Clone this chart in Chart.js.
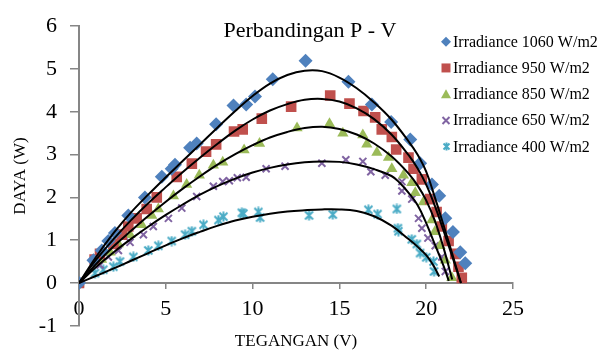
<!DOCTYPE html>
<html><head><meta charset="utf-8">
<script src="https://cdn.jsdelivr.net/npm/chart.js@4.4.0/dist/chart.umd.min.js"></script>
<style>html,body{margin:0;padding:0;background:#fff;}#wrap{width:606px;height:352px;}</style>
</head><body><div id="wrap"><canvas id="c" width="606" height="352"></canvas></div>
<script>
// ---------- DATA ----------
const TITLE = 'Perbandingan P - V';
const X_TITLE = 'TEGANGAN (V)';
const Y_TITLE = 'DAYA (W)';
const X_TICKS = [0, 5, 10, 15, 20, 25];
const Y_TICKS = [-1, 0, 1, 2, 3, 4, 5, 6];
const SERIES_NAMES = ['Irradiance 1060 W/m2','Irradiance 950 W/m2','Irradiance 850 W/m2','Irradiance 650 W/m2','Irradiance 400 W/m2'];

// measured points (V, P)
const V_1060 = [0,0.83,1.31,1.69,2.07,2.84,3.8,4.77,5.34,5.53,6.4,6.78,7.9,8.9,9.63,10.14,11.16,13.05,15.52,16.87,17.98,19.08,19.65,20.33,20.75,21.1,21.54,21.96,22.25];
const P_1060 = [0,0.53,0.76,0.98,1.17,1.58,2.0,2.48,2.67,2.76,3.16,3.26,3.71,4.15,4.17,4.36,4.76,5.19,4.70,4.17,3.76,3.35,2.8,2.3,2.04,1.51,1.19,0.72,0.46];

const V_950 = [0,0.9,1.21,1.98,2.46,2.84,3.32,3.9,4.48,5.63,6.5,7.32,7.9,8.93,9.43,10.53,12.22,14.47,15.58,16.39,17.06,17.44,18.02,18.27,18.98,19.27,19.75,20.23,20.6,20.9,21.29,21.67,21.86,22.05];
const P_950 = [0,0.55,0.68,0.91,1.13,1.32,1.51,1.73,2.0,2.48,2.79,3.07,3.24,3.54,3.59,3.84,4.12,4.38,4.19,4.02,3.87,3.59,3.41,3.12,2.93,2.67,2.42,1.96,1.66,1.32,0.98,0.68,0.38,0.12];

const V_850 = [0,1.3,1.79,2.27,2.94,3.61,4.19,4.57,5.44,6.2,6.93,7.74,8.28,9.51,10.4,12.56,14.43,15.2,16.35,16.58,17.16,17.83,18.02,18.69,19.17,19.37,19.84,20.33,20.5,20.8,21.1,21.48];
const P_850 = [0,0.55,0.72,0.91,1.13,1.36,1.58,1.73,2.03,2.3,2.52,2.75,2.82,3.11,3.26,3.62,3.72,3.5,3.46,3.24,3.05,2.93,2.67,2.52,2.34,2.11,1.89,1.47,1.2,0.87,0.53,0.12];

const V_650 = [0,1.21,1.69,2.27,2.94,3.71,4.28,5.15,5.92,6.78,7.74,8.28,8.66,9.12,9.63,10.78,11.87,13.99,15.37,16.35,16.81,17.64,18.6,18.6,19.17,19.56,19.75,20.1,20.52,20.9,21.1];
const P_650 = [0,0.42,0.61,0.76,0.95,1.13,1.32,1.51,1.75,2.02,2.26,2.37,2.39,2.46,2.47,2.67,2.73,2.8,2.88,2.84,2.6,2.52,2.37,2.15,1.96,1.51,1.28,1.05,0.87,0.61,0.27];

const V_400 = [0,0.92,1.4,1.98,2.36,3.13,3.99,4.57,5.34,6.11,6.5,7.17,8.03,8.32,9.38,9.47,10.33,10.43,13.25,14.62,16.67,17.2,18.31,18.37,18.4,19.17,19.46,19.65,20.0,20.42,20.45];
const P_400 = [0,0.23,0.31,0.38,0.5,0.61,0.76,0.87,0.98,1.13,1.21,1.36,1.47,1.55,1.64,1.62,1.66,1.53,1.58,1.6,1.71,1.61,1.73,1.28,1.21,1.02,0.91,0.7,0.6,0.5,0.27];

// trendlines
const TV_1060 = [0,1,2,3,4,5,6,7,8,9,10,11,12,13,14,15,16,17,18,19,19.5,20,20.5,21,21.5,22];
const TP_1060 = [0,0.62,1.17,1.65,2.07,2.47,2.86,3.25,3.64,4.02,4.37,4.66,4.86,4.96,4.95,4.8,4.55,4.22,3.82,3.3,3.0,2.6,2.0,1.35,0.68,0.0];
const TV_950 = [0,1,2,3,4,5,6,7,8,9,10,11,12,13,14,15,16,17,18,19,19.5,20,20.5,21,21.5,22];
const TP_950 = [0,0.55,1.03,1.47,1.87,2.24,2.6,2.94,3.26,3.56,3.82,4.03,4.18,4.28,4.3,4.24,4.08,3.83,3.47,2.98,2.68,2.3,1.8,1.22,0.62,0.0];
const TV_850 = [0,1,2,3,4,5,6,7,8,9,10,11,12,13,14,15,16,17,18,19,19.5,20,20.5,21,21.5];
const TP_850 = [0,0.45,0.86,1.22,1.57,1.9,2.21,2.5,2.77,3.01,3.22,3.4,3.53,3.62,3.65,3.6,3.47,3.26,2.96,2.55,2.28,1.93,1.45,0.82,0.08];
const TV_650 = [0,1,2,3,4,5,6,7,8,9,10,11,12,13,14,15,16,17,18,18.5,19,19.5,20,20.5,21,21.3];
const TP_650 = [0,0.38,0.72,1.03,1.32,1.59,1.84,2.07,2.27,2.44,2.58,2.69,2.77,2.82,2.84,2.83,2.77,2.66,2.5,2.33,2.1,1.82,1.4,0.9,0.4,0.05];
const TV_400 = [0,1,2,3,4,5,6,7,8,9,10,11,12,13,14,15,16,17,18,19,19.5,20,20.4,20.75];
const TP_400 = [0,0.17,0.34,0.52,0.7,0.88,1.05,1.2,1.34,1.46,1.55,1.62,1.67,1.7,1.72,1.72,1.68,1.56,1.34,1.02,0.85,0.65,0.42,0.15];

// ---------- STYLE ----------
const COLORS = ['#4F81BD','#C0504D','#9BBB59','#8064A2','#4BACC6'];
const FONT = '"Liberation Serif", "Times New Roman", serif';

function starCanvas(color, size){
  const c = document.createElement('canvas');
  c.width = size; c.height = size;
  const g = c.getContext('2d');
  g.strokeStyle = color; g.lineWidth = 2; g.lineCap = 'butt';
  const m = 1.5, s = size - 1.5;
  g.beginPath();
  g.moveTo(m, m); g.lineTo(s, s);
  g.moveTo(s, m); g.lineTo(m, s);
  g.moveTo(size/2, 0.5); g.lineTo(size/2, size-0.5);
  g.stroke();
  return c;
}
const STAR = starCanvas(COLORS[4], 11);
const STAR_SMALL = starCanvas(COLORS[4], 9);

const xy = (vs, ps) => vs.map((v, i) => ({x: v, y: ps[i]}));

const pointSets = [
  {data: xy(V_1060, P_1060), pointStyle: 'rectRot', pointRadius: 7, pointBorderWidth: 0},
  {data: xy(V_950, P_950), pointStyle: 'rect', pointRadius: 7.5, pointBorderWidth: 0},
  {data: xy(V_850, P_850), pointStyle: 'triangle', pointRadius: 6.5, pointBorderWidth: 0},
  {data: xy(V_650, P_650), pointStyle: 'crossRot', pointRadius: 5, pointBorderWidth: 2},
  {data: xy(V_400, P_400), pointStyle: STAR, pointRadius: 5, pointBorderWidth: 0}
].map((d, i) => Object.assign({
  label: SERIES_NAMES[i], type: 'scatter', showLine: false,
  backgroundColor: COLORS[i], borderColor: COLORS[i],
  pointBackgroundColor: COLORS[i], pointBorderColor: COLORS[i],
  pointHoverRadius: d.pointRadius, order: 2
}, d));

const trendSets = [
  xy(TV_1060, TP_1060), xy(TV_950, TP_950), xy(TV_850, TP_850), xy(TV_650, TP_650), xy(TV_400, TP_400)
].map((pts, i) => ({
  label: 'trend' + i, type: 'scatter', data: pts, showLine: true,
  borderColor: '#000', borderWidth: 2, pointRadius: 0, pointHoverRadius: 0,
  tension: 0.4, fill: false, order: 1
}));

function drawLegendMarker(ctx, i, x, y){
  ctx.fillStyle = COLORS[i]; ctx.strokeStyle = COLORS[i];
  ctx.beginPath();
  if (i === 0){ const r = 5; ctx.moveTo(x, y - r); ctx.lineTo(x + r, y); ctx.lineTo(x, y + r); ctx.lineTo(x - r, y); ctx.closePath(); ctx.fill(); }
  else if (i === 1){ ctx.rect(x - 4.5, y - 4.5, 9, 9); ctx.fill(); }
  else if (i === 2){ ctx.moveTo(x, y - 5); ctx.lineTo(x + 5, y + 4); ctx.lineTo(x - 5, y + 4); ctx.closePath(); ctx.fill(); }
  else if (i === 3){ ctx.lineWidth = 2; const r = 3.5; ctx.moveTo(x - r, y - r); ctx.lineTo(x + r, y + r); ctx.moveTo(x + r, y - r); ctx.lineTo(x - r, y + r); ctx.stroke(); }
  else { ctx.drawImage(STAR_SMALL, Math.round(x - 4.5), Math.round(y - 4.5)); }
}

const overlay = {
  id: 'overlay',
  afterDraw(chart){
    const ctx = chart.ctx;
    ctx.save();
    ctx.fillStyle = '#000';
    ctx.font = '22px ' + FONT;
    ctx.textAlign = 'center'; ctx.textBaseline = 'alphabetic';
    ctx.fillText(TITLE, 310, 37);
    ctx.font = '16px ' + FONT;
    ctx.textAlign = 'left';
    SERIES_NAMES.forEach((name, i) => {
      const base = 46.7 + i * 26.25;
      drawLegendMarker(ctx, i, 446, base - 5);
      ctx.fillStyle = '#000';
      ctx.fillText(name, 453, base);
    });
    ctx.restore();
  }
};

new Chart(document.getElementById('c'), {
  type: 'scatter',
  data: {datasets: [...trendSets, ...pointSets]},
  options: {
    responsive: false, animation: false, devicePixelRatio: 1,
    layout: {padding: {left: 0, right: 93, top: 15, bottom: 26}},
    plugins: {legend: {display: false}, tooltip: {enabled: false}, title: {display: false}},
    scales: {
      x: {
        type: 'linear', min: X_TICKS[0], max: X_TICKS[X_TICKS.length - 1], position: {y: 0},
        afterBuildTicks: s => { s.ticks = X_TICKS.map(v => ({value: v})); },
        ticks: {color: '#000', font: {family: FONT, size: 22}, padding: 8, maxRotation: 0},
        grid: {drawOnChartArea: false, drawTicks: true, tickLength: 5, color: '#868686', lineWidth: 1.5},
        border: {display: true, color: '#868686', width: 2},
        title: {display: true, text: X_TITLE, color: '#000', font: {family: FONT, size: 17}, padding: {top: 1, bottom: 0}}
      },
      y: {
        type: 'linear', min: Y_TICKS[0], max: Y_TICKS[Y_TICKS.length - 1], position: 'left',
        afterBuildTicks: s => { s.ticks = Y_TICKS.map(v => ({value: v})); },
        afterFit: s => { s.width = 79; },
        ticks: {color: '#000', font: {family: FONT, size: 22}, padding: 13},
        grid: {drawOnChartArea: false, drawTicks: true, tickLength: 9, color: '#868686', lineWidth: 1.5},
        border: {display: true, color: '#868686', width: 2},
        title: {display: true, text: Y_TITLE, color: '#000', font: {family: FONT, size: 17}, padding: {top: 10, bottom: 0}}
      }
    }
  },
  plugins: [overlay]
});
</script>
</body></html>
